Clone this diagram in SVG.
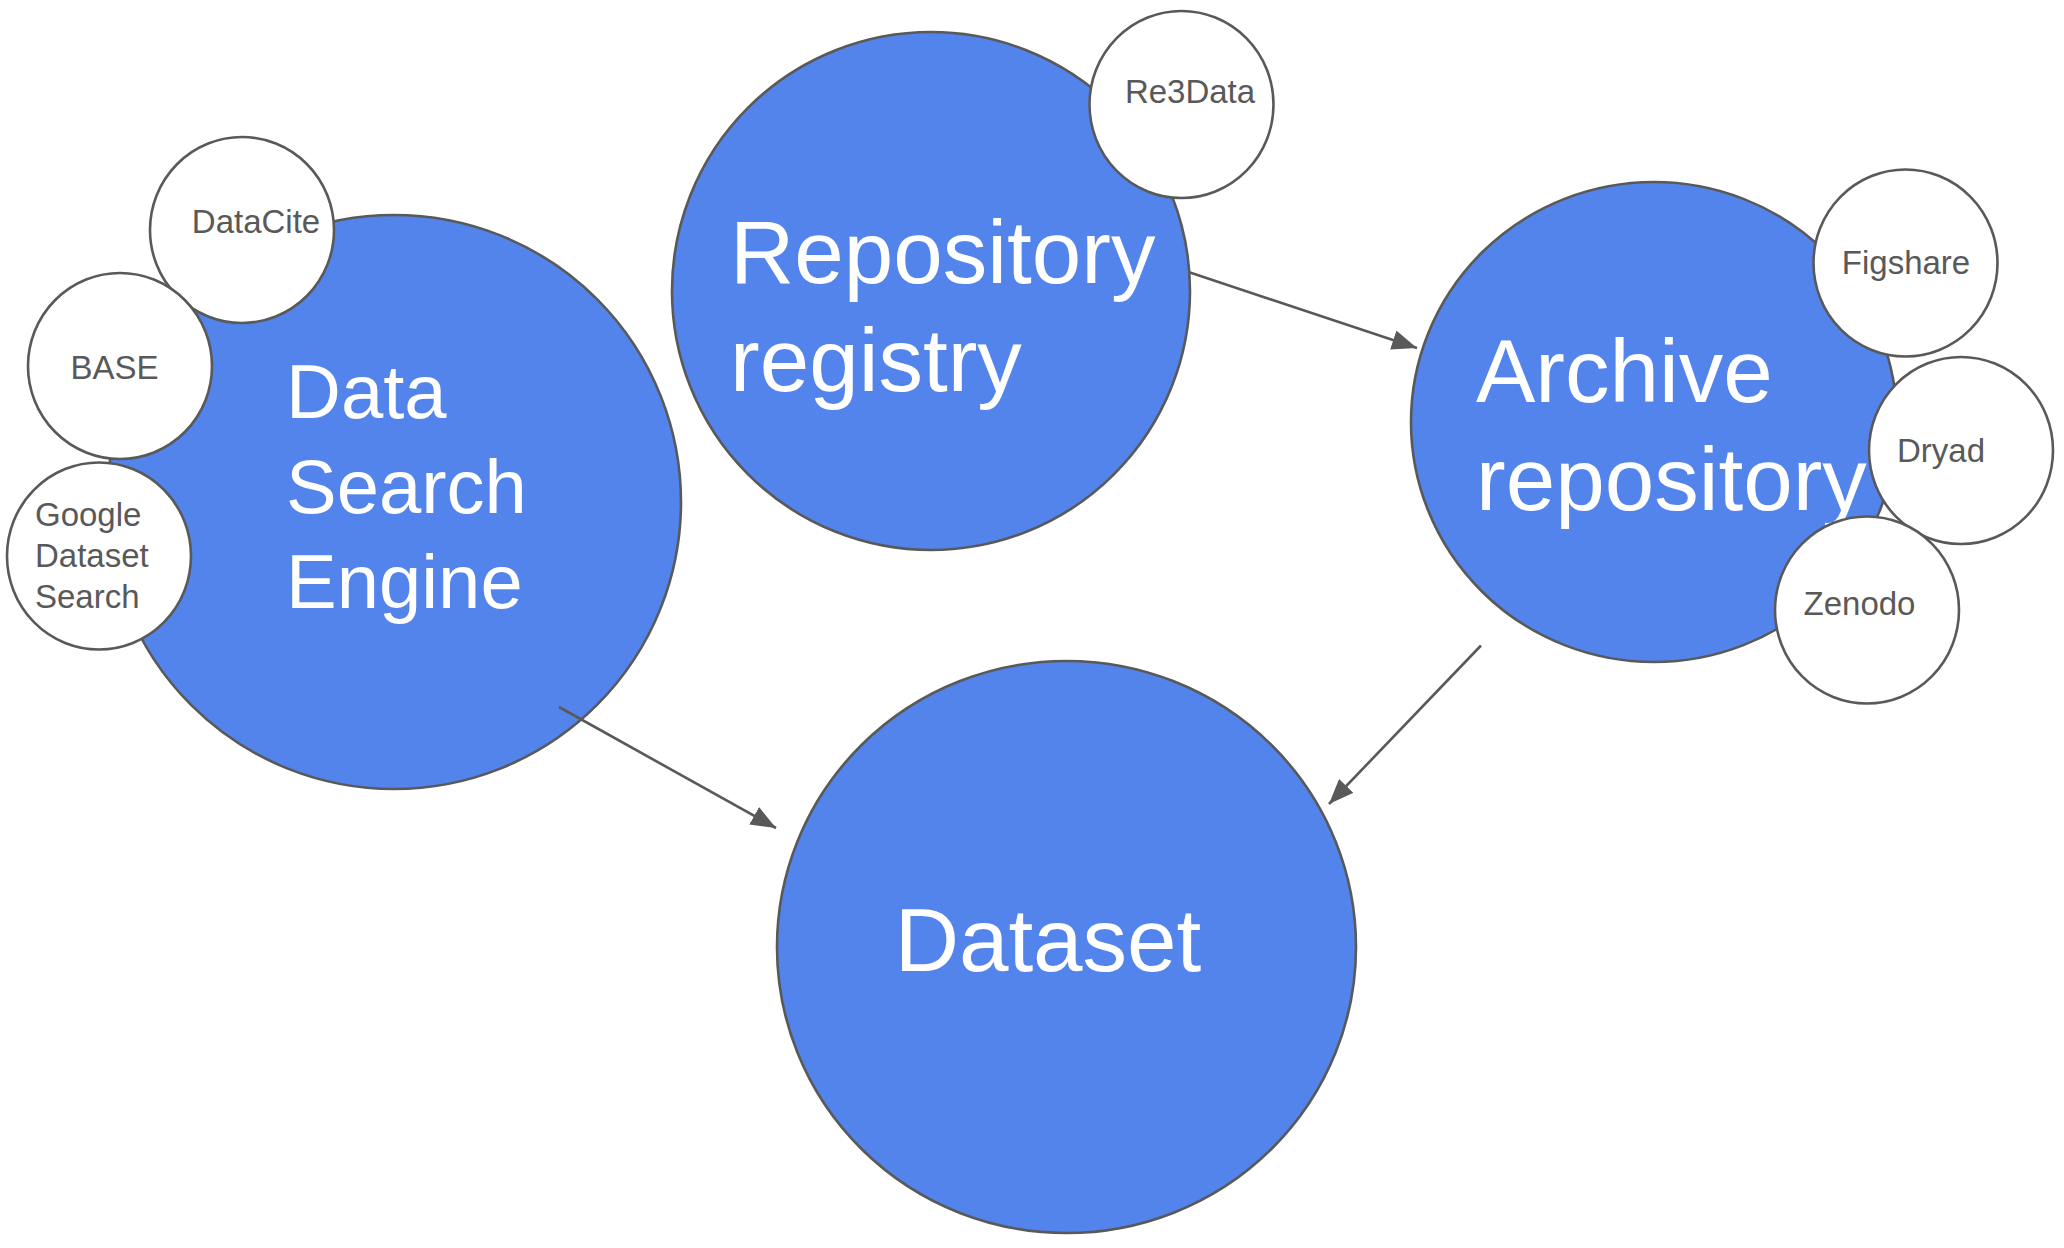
<svg xmlns="http://www.w3.org/2000/svg" width="2064" height="1248" viewBox="0 0 2064 1248">
<style>
.big{fill:#5384eb;stroke:#595959;stroke-width:2.6}
.small{fill:#ffffff;stroke:#595959;stroke-width:2.6}
.bt{font-family:"Liberation Sans",Arial,sans-serif;fill:#ffffff}
.st{font-family:"Liberation Sans",Arial,sans-serif;font-size:33px;fill:#595959}
.conn{stroke:#595959;stroke-width:2.6;fill:none}
</style>
<defs>
<marker id="arr" markerUnits="userSpaceOnUse" markerWidth="26" markerHeight="20" refX="25" refY="10" orient="auto">
<path d="M0,0 L25,10 L0,20 Z" fill="#595959"/>
</marker>
</defs>
<rect width="2064" height="1248" fill="#ffffff"/>
<g id="node-data-search-engine">
<circle class="big" cx="394" cy="502" r="287"/>
<text class="bt" font-size="76" x="286"><tspan x="286" y="418">Data</tspan><tspan x="286" y="513">Search</tspan><tspan x="286" y="608">Engine</tspan></text>
</g>
<g id="node-datacite">
<ellipse class="small" cx="242" cy="230" rx="92" ry="93"/>
<text class="st" x="256" y="233" text-anchor="middle">DataCite</text>
</g>
<g id="node-base">
<ellipse class="small" cx="120" cy="366" rx="92" ry="93"/>
<text class="st" x="114.5" y="379" text-anchor="middle">BASE</text>
</g>
<g id="node-google">
<ellipse class="small" cx="99" cy="556" rx="92" ry="93.5"/>
<text class="st" x="35"><tspan x="35" y="526">Google</tspan><tspan x="35" y="567">Dataset</tspan><tspan x="35" y="608">Search</tspan></text>
</g>
<g id="node-repository-registry">
<circle class="big" cx="931" cy="291" r="259"/>
<text class="bt" font-size="89" x="730"><tspan x="730" y="283">Repository</tspan><tspan x="730" y="391">registry</tspan></text>
</g>
<g id="node-re3data">
<ellipse class="small" cx="1181.5" cy="104.5" rx="92" ry="93.5"/>
<text class="st" x="1190" y="102.6" text-anchor="middle">Re3Data</text>
</g>
<g id="node-archive-repository">
<ellipse class="big" cx="1654" cy="422" rx="243" ry="240"/>
<text class="bt" font-size="89" x="1476"><tspan x="1476" y="402">Archive</tspan><tspan x="1476" y="510">repository</tspan></text>
</g>
<g id="node-figshare">
<ellipse class="small" cx="1905.5" cy="263" rx="92" ry="93.5"/>
<text class="st" x="1906" y="274" text-anchor="middle">Figshare</text>
</g>
<g id="node-dryad">
<ellipse class="small" cx="1961" cy="450.5" rx="92" ry="93.5"/>
<text class="st" x="1941" y="462" text-anchor="middle">Dryad</text>
</g>
<g id="node-zenodo">
<ellipse class="small" cx="1867" cy="610" rx="92" ry="93.5"/>
<text class="st" x="1859.5" y="615" text-anchor="middle">Zenodo</text>
</g>
<g id="node-dataset">
<ellipse class="big" cx="1066.5" cy="947" rx="289.5" ry="286"/>
<text class="bt" font-size="89" x="1048" y="971" text-anchor="middle">Dataset</text>
</g>
<g id="connectors">
<line class="conn" x1="1190" y1="272.5" x2="1417" y2="348" marker-end="url(#arr)"/>
<line class="conn" x1="559" y1="707" x2="776" y2="828" marker-end="url(#arr)"/>
<line class="conn" x1="1481" y1="645.5" x2="1329" y2="804" marker-end="url(#arr)"/>
</g>
</svg>
